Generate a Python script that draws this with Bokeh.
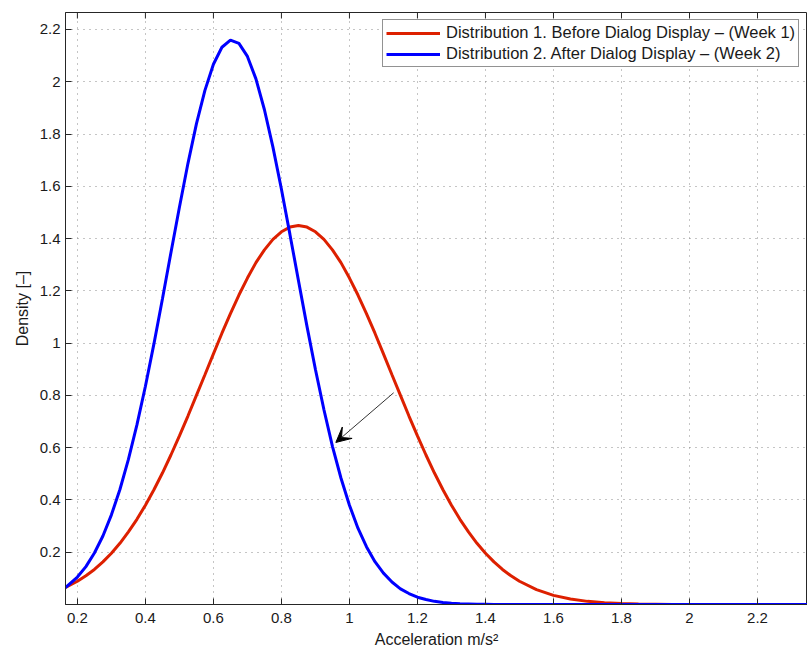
import math
from bokeh.plotting import figure
from bokeh.models import (Range1d, FixedTicker, Legend, LegendItem,
                          Arrow, VeeHead, ColumnDataSource)
from bokeh.embed import file_html
from bokeh.resources import INLINE

# ---- data ----
x_vals = [0.165,
          0.200, 0.225, 0.250, 0.275, 0.300, 0.325, 0.350, 0.375, 0.400, 0.425,
          0.450, 0.475, 0.500, 0.525, 0.550, 0.575, 0.600, 0.625, 0.650, 0.675,
          0.700, 0.725, 0.750, 0.775, 0.800, 0.825, 0.850, 0.875, 0.900, 0.925,
          0.950, 0.975, 1.000, 1.025, 1.050, 1.075, 1.100, 1.125, 1.150, 1.175,
          1.200, 1.225, 1.250, 1.275, 1.300, 1.325, 1.350, 1.375, 1.400, 1.425,
          1.450, 1.475, 1.500,
          1.55, 1.60, 1.65, 1.70, 1.75, 1.80, 1.85, 1.90, 1.95, 2.00,
          2.10, 2.20, 2.30, 2.35]

red_vals = [0.065,
            0.089, 0.110, 0.134, 0.163, 0.196, 0.234, 0.278, 0.326, 0.380, 0.439,
            0.503, 0.572, 0.645, 0.721, 0.800, 0.879, 0.959, 1.038, 1.113, 1.184,
            1.249, 1.308, 1.357, 1.397, 1.426, 1.444, 1.450, 1.444, 1.426, 1.397,
            1.357, 1.308, 1.249, 1.184, 1.113, 1.038, 0.959, 0.879, 0.800, 0.721,
            0.645, 0.572, 0.503, 0.439, 0.380, 0.326, 0.278, 0.234, 0.196, 0.163,
            0.134, 0.110, 0.089,
            0.057, 0.035, 0.021, 0.012, 0.007, 0.004, 0.002, 0.001, 0.000, 0.000,
            0.000, 0.000, 0.000, 0.000]

blue_vals = [0.065,
             0.105, 0.145, 0.197, 0.262, 0.343, 0.440, 0.555, 0.687, 0.835, 0.997,
             1.169, 1.346, 1.520, 1.687, 1.839, 1.967, 2.067, 2.132, 2.159, 2.147,
             2.097, 2.011, 1.893, 1.750, 1.589, 1.416, 1.240, 1.065, 0.899, 0.745,
             0.605, 0.484, 0.380, 0.292, 0.221, 0.164, 0.120, 0.086, 0.060, 0.042,
             0.028, 0.019, 0.012, 0.008, 0.005, 0.003, 0.002, 0.001, 0.001, 0.000,
             0.000, 0.000, 0.000,
             0.000, 0.000, 0.000, 0.000, 0.000, 0.000, 0.000, 0.000, 0.000, 0.000,
             0.000, 0.000, 0.000, 0.000]

series_labels = ["Distribution 1. Before Dialog Display \u2013 (Week 1)",
                 "Distribution 2. After Dialog Display \u2013 (Week 2)"]

x_ticks = [0.2, 0.4, 0.6, 0.8, 1.0, 1.2, 1.4, 1.6, 1.8, 2.0, 2.2]
x_tick_labels = ["0.2", "0.4", "0.6", "0.8", "1", "1.2", "1.4", "1.6", "1.8", "2", "2.2"]
y_ticks = [0.2, 0.4, 0.6, 0.8, 1.0, 1.2, 1.4, 1.6, 1.8, 2.0, 2.2]
y_tick_labels = ["0.2", "0.4", "0.6", "0.8", "1", "1.2", "1.4", "1.6", "1.8", "2", "2.2"]

arrow_start = (1.13, 0.81)
arrow_end = (0.96, 0.62)

x_label = "Acceleration m/s\u00b2"
y_label = "Density [\u2013]"

x_lo, x_hi = 0.165, 2.347
y_lo, y_hi = 0.0, 2.265

# ---- figure ----
FONT = "Liberation Sans"
TXT = "#1a1a1a"
AX = "#262626"

p = figure(width=807, height=657, output_backend="svg", toolbar_location=None,
           x_range=Range1d(x_lo, x_hi), y_range=Range1d(y_lo, y_hi),
           min_border_left=65, min_border_right=0, min_border_top=12,
           min_border_bottom=53)
p.background_fill_color = "white"
p.border_fill_color = "white"
p.outline_line_color = AX
p.outline_line_width = 1

src = ColumnDataSource(dict(x=x_vals, red=red_vals, blue=blue_vals))
r1 = p.line("x", "red", source=src, line_color="#dd2000", line_width=3)
r2 = p.line("x", "blue", source=src, line_color="#0000ff", line_width=3)

# axes
xt = FixedTicker(ticks=x_ticks)
yt = FixedTicker(ticks=y_ticks)
for ax, ticker, labels in ((p.xaxis[0], xt, x_tick_labels), (p.yaxis[0], yt, y_tick_labels)):
    ax.ticker = ticker
    ax.major_label_overrides = {t: l for t, l in zip(ticker.ticks, labels)}
    ax.major_tick_in = 6
    ax.major_tick_out = 0
    ax.minor_tick_line_color = None
    ax.axis_line_color = AX
    ax.major_tick_line_color = AX
    ax.major_label_text_font = FONT
    ax.major_label_text_font_size = "15px"
    ax.major_label_text_color = TXT
    ax.axis_label_text_font = FONT
    ax.axis_label_text_font_size = "16px"
    ax.axis_label_text_font_style = "normal"
    ax.axis_label_text_color = TXT

p.xaxis[0].axis_label = x_label
p.yaxis[0].axis_label = y_label
p.xaxis[0].major_label_standoff = 8
p.yaxis[0].major_label_standoff = 5
p.xaxis[0].axis_label_standoff = 5
p.yaxis[0].axis_label_standoff = 6

# inward tick marks on the top edge of the box (MATLAB style)
p.scatter(x=x_ticks, y=[y_hi] * len(x_ticks), marker="dash", angle=math.pi / 2,
          size=12, line_color=AX, line_width=1)

# grid
for g, ticker in ((p.xgrid[0], xt), (p.ygrid[0], yt)):
    g.ticker = ticker
    g.grid_line_color = "#8a8a8a"
    g.grid_line_dash = "1 5"
    g.grid_line_width = 1

# arrow
p.add_layout(Arrow(end=VeeHead(size=15, fill_color="black", line_color="black"),
                   x_start=arrow_start[0], y_start=arrow_start[1],
                   x_end=arrow_end[0], y_end=arrow_end[1],
                   line_color="#333333", line_width=1))

# legend
legend = Legend(items=[LegendItem(label=series_labels[0], renderers=[r1]),
                       LegendItem(label=series_labels[1], renderers=[r2])],
                location=(317, 537),
                label_text_font=FONT, label_text_font_size="16.5px",
                label_text_color=TXT, glyph_width=54, glyph_height=16,
                label_height=16, label_standoff=6, padding=3, spacing=2,
                margin=0, border_line_color=AX, border_line_width=1,
                background_fill_color="white", background_fill_alpha=1)
p.add_layout(legend, "center")

open("out.html", "w").write(file_html(p, INLINE))
